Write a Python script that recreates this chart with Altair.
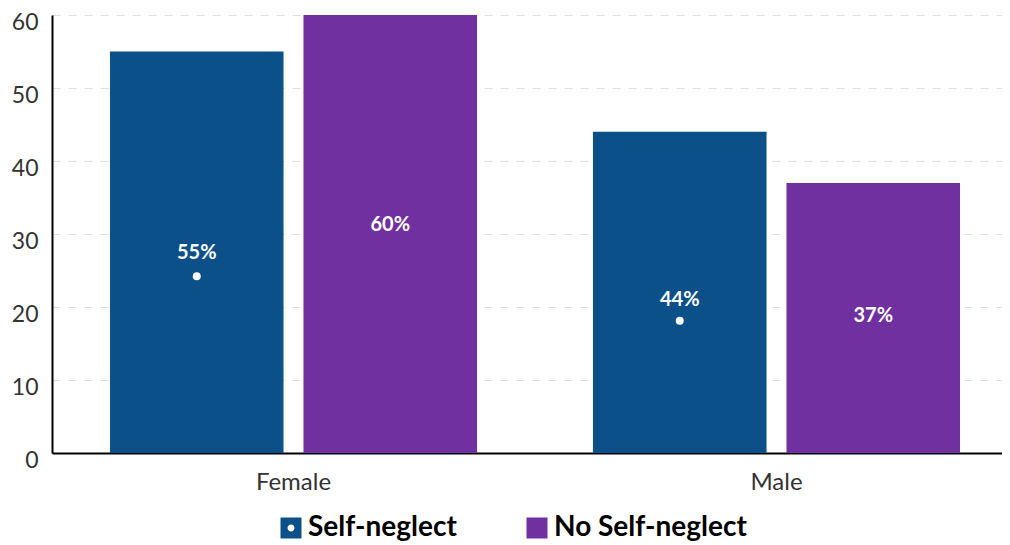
import altair as alt
import pandas as pd

genders = ["Female", "Female", "Male", "Male"]
groups = ["Self-neglect", "No Self-neglect", "Self-neglect", "No Self-neglect"]
values = [55, 60, 44, 37]
labels = ["55%", "60%", "44%", "37%"]
label_pos = [27.4, 31.2, 21.0, 18.8]

dot_gender = ["Female", "Male"]
dot_group = ["Self-neglect", "Self-neglect"]
dot_value = [24.2, 18.1]

df = pd.DataFrame({"gender": genders, "group": groups, "value": values,
                   "label": labels, "pos": label_pos})
dots = pd.DataFrame({"gender": dot_gender, "group": dot_group, "value": dot_value})

FONT = "Lato"
order = ["Self-neglect", "No Self-neglect"]
colors = ["#0B5089", "#7030A0"]

# square with a round hole (circle drawn counter-clockwise)
hole = "M-1,-1H1V1H-1Z M-0.33,0A0.33,0.33 0 1,0 0.33,0A0.33,0.33 0 1,0 -0.33,0Z"

legend = alt.Legend(orient="none", direction="horizontal",
                    legendX=225, legendY=499,
                    symbolSize=441, symbolStrokeWidth=0, symbolOpacity=1,
                    labelFontSize=28, labelFont=FONT, labelFontWeight="bold",
                    labelColor="#000000", labelOffset=3, columnPadding=66,
                    labelLimit=400)

color = alt.Color("group:N", sort=order, title=None,
                  scale=alt.Scale(domain=order, range=colors), legend=legend)

x = alt.X("gender:N", title=None,
          scale=alt.Scale(paddingInner=0.24, paddingOuter=0.12, range=[0, 966]),
          axis=alt.Axis(labelAngle=0, labelFontSize=24, labelFont=FONT, labelColor="#333333",
                        domainColor="#000000", domainWidth=2, ticks=False, labelPadding=17,
                        grid=False))
xo = alt.XOffset("group:N", sort=order, scale=alt.Scale(paddingInner=0.103, paddingOuter=0))
y_scale = alt.Scale(domain=[0, 60], nice=False)

bars = alt.Chart(df).mark_bar().encode(
    x=x,
    xOffset=xo,
    y=alt.Y("value:Q", title=None, scale=y_scale,
            axis=alt.Axis(values=[0, 10, 20, 30, 40, 50, 60], labelFontSize=23, labelFont=FONT,
                          labelColor="#333333", domainColor="#000000", domainWidth=2,
                          ticks=False, labelPadding=14, labelOffset=7, grid=True,
                          gridColor="#DDDDDD", gridDash=[8, 8], gridWidth=1)),
    color=color,
)

# invisible layer that only supplies the legend symbol shapes
shape_layer = alt.Chart(df).mark_point(filled=True, opacity=0).encode(
    x=alt.X("gender:N"),
    xOffset=alt.XOffset("group:N", sort=order),
    y=alt.Y("value:Q", scale=y_scale),
    color=color,
    shape=alt.Shape("group:N", sort=order, title=None,
                    scale=alt.Scale(domain=order, range=[hole, "square"]), legend=legend),
)

text = alt.Chart(df).mark_text(color="white", fontWeight="bold", fontSize=20, font=FONT,
                               baseline="middle").encode(
    x=alt.X("gender:N"),
    xOffset=alt.XOffset("group:N", sort=order),
    y=alt.Y("pos:Q", scale=y_scale),
    text="label:N",
)

pts = alt.Chart(dots).mark_point(filled=True, color="white", size=64, opacity=1, shape="circle").encode(
    x=alt.X("gender:N"),
    xOffset=alt.XOffset("group:N", sort=order),
    y=alt.Y("value:Q", scale=y_scale),
)

chart = alt.layer(bars, shape_layer, text, pts).properties(
    width=950, height=438,
    autosize=alt.AutoSizeParams(type="none"),
    padding={"left": 44, "top": 7, "right": 0, "bottom": 92},
).configure(background="white", view=alt.ViewConfig(stroke=None))

chart.save("out.html", embed_options={"renderer": "svg", "actions": False})
